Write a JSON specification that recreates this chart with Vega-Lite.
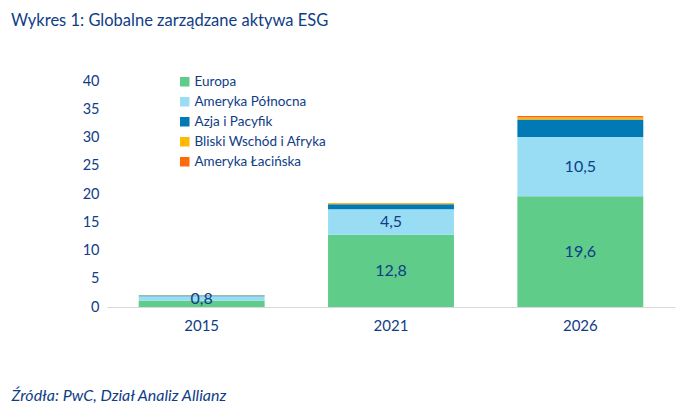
{
  "$schema": "https://vega.github.io/schema/vega-lite/v6.json",
  "width": 568,
  "height": 226,
  "autosize": {"type": "none"},
  "padding": {"left": 107, "top": 81, "right": 20, "bottom": 104},
  "background": "white",
  "config": {
    "view": {"stroke": null},
    "font": "Lato",
    "text": {"font": "Lato"},
    "axisY": {"labelOverlap": false}
  },
  "title": {
    "text": "Wykres 1: Globalne zarządzane aktywa ESG",
    "anchor": "start",
    "frame": "group",
    "dx": -96,
    "offset": 44,
    "fontSize": 16.5,
    "fontWeight": "normal",
    "color": "#0F3D86",
    "font": "Lato"
  },
  "data": {
    "values": [
      {"year": "2015", "region": "Europa", "ord": 1, "value": 1.1, "label": ""},
      {"year": "2015", "region": "Ameryka Północna", "ord": 2, "value": 0.8, "label": "0,8"},
      {"year": "2015", "region": "Azja i Pacyfik", "ord": 3, "value": 0.15, "label": ""},
      {"year": "2015", "region": "Bliski Wschód i Afryka", "ord": 4, "value": 0.03, "label": ""},
      {"year": "2015", "region": "Ameryka Łacińska", "ord": 5, "value": 0.02, "label": ""},
      {"year": "2021", "region": "Europa", "ord": 1, "value": 12.8, "label": "12,8"},
      {"year": "2021", "region": "Ameryka Północna", "ord": 2, "value": 4.5, "label": "4,5"},
      {"year": "2021", "region": "Azja i Pacyfik", "ord": 3, "value": 0.9, "label": ""},
      {"year": "2021", "region": "Bliski Wschód i Afryka", "ord": 4, "value": 0.15, "label": ""},
      {"year": "2021", "region": "Ameryka Łacińska", "ord": 5, "value": 0.05, "label": ""},
      {"year": "2026", "region": "Europa", "ord": 1, "value": 19.6, "label": "19,6"},
      {"year": "2026", "region": "Ameryka Północna", "ord": 2, "value": 10.5, "label": "10,5"},
      {"year": "2026", "region": "Azja i Pacyfik", "ord": 3, "value": 3.1, "label": ""},
      {"year": "2026", "region": "Bliski Wschód i Afryka", "ord": 4, "value": 0.35, "label": ""},
      {"year": "2026", "region": "Ameryka Łacińska", "ord": 5, "value": 0.25, "label": ""}
    ]
  },
  "transform": [
    {"stack": "value", "groupby": ["year"], "sort": [{"field": "ord", "order": "ascending"}], "as": ["v0", "v1"]}
  ],
  "encoding": {
    "x": {
      "field": "year",
      "type": "nominal",
      "scale": {"paddingInner": 0.335, "paddingOuter": 0.1675},
      "axis": {
        "labelAngle": 0,
        "labelFontSize": 15,
        "labelColor": "#0F3D86",
        "labelPadding": 11,
        "ticks": false,
        "domainColor": "#D9D9D9",
        "domainWidth": 1,
        "title": "Źródła: PwC, Dział Analiz Allianz",
        "titleFontStyle": "italic",
        "titleFontWeight": "normal",
        "titleFontSize": 16,
        "titleColor": "#0F3D86",
        "titleAnchor": "start",
        "titleAlign": "left",
        "titleX": -96,
        "titleY": 88,
        "titleBaseline": "middle"
      }
    },
    "y": {
      "field": "v0",
      "type": "quantitative",
      "scale": {"domain": [0, 40]},
      "axis": {
        "values": [0, 5, 10, 15, 20, 25, 30, 35, 40],
        "grid": false,
        "domain": false,
        "ticks": false,
        "labelOverlap": false,
        "labelFontSize": 14.5,
        "labelColor": "#0F3D86",
        "labelPadding": 8,
        "title": null
      }
    }
  },
  "layer": [
    {
      "mark": {"type": "bar"},
      "encoding": {
        "y2": {"field": "v1"},
        "color": {
          "field": "region",
          "type": "nominal",
          "sort": ["Europa", "Ameryka Północna", "Azja i Pacyfik", "Bliski Wschód i Afryka", "Ameryka Łacińska"],
          "scale": {
            "domain": ["Europa", "Ameryka Północna", "Azja i Pacyfik", "Bliski Wschód i Afryka", "Ameryka Łacińska"],
            "range": ["#5FCC89", "#99DDF5", "#0079B5", "#FFB900", "#FF6A0D"]
          },
          "legend": {
            "orient": "none",
            "legendX": 71,
            "legendY": -6,
            "title": null,
            "symbolType": "square",
            "symbolSize": 90,
            "symbolStrokeWidth": 0,
            "labelFontSize": 13.5,
            "labelColor": "#0F3D86",
            "labelOffset": 3,
            "rowPadding": 5,
            "padding": 0
          }
        }
      }
    },
    {
      "transform": [
        {"filter": "datum.label != ''"},
        {"calculate": "(datum.v0 + datum.v1) / 2", "as": "v0"}
      ],
      "mark": {"type": "text", "fontSize": 16, "color": "#0F3D86", "baseline": "middle"},
      "encoding": {
        "text": {"field": "label"}
      }
    }
  ]
}
